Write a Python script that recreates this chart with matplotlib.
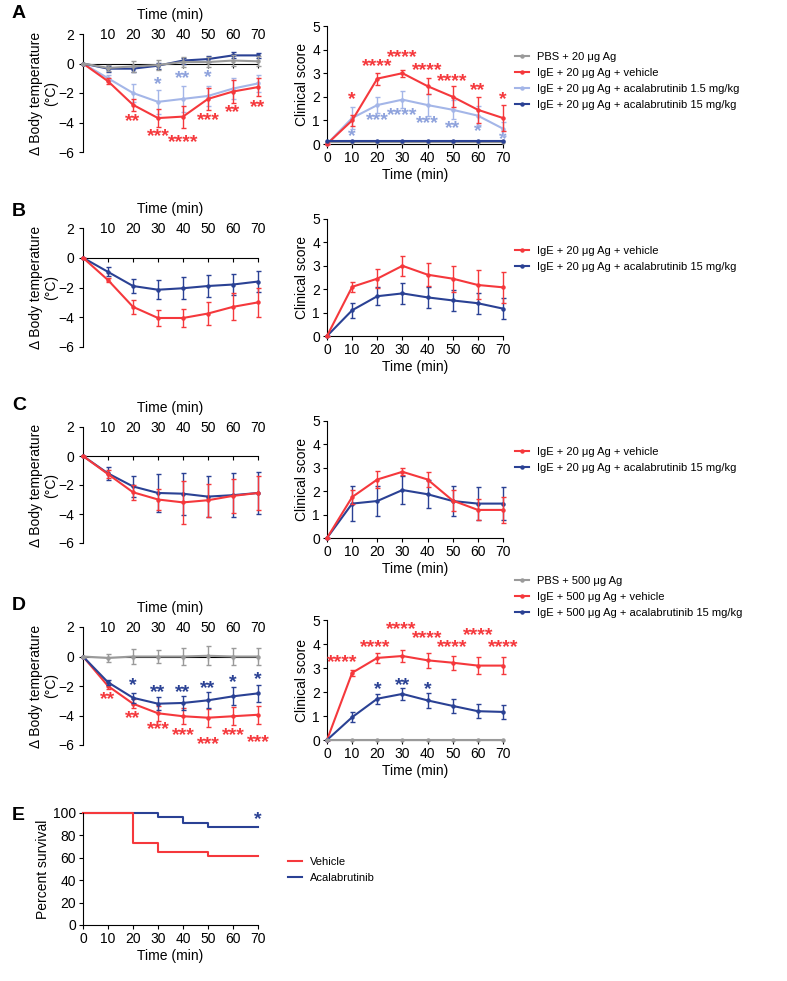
import matplotlib
matplotlib.use('Agg')
import matplotlib.pyplot as plt
from matplotlib.lines import Line2D

plt.rcParams['font.family'] = ['Liberation Sans', 'DejaVu Sans']

RED = '#f5383c'
NAVY = '#2a4194'
LIGHT = '#a4b6e8'
LIGHT_STAR = '#8ea2dc'
GRAY = '#9a9a9a'

time = [0, 10, 20, 30, 40, 50, 60, 70]
ticks_top = [10, 20, 30, 40, 50, 60, 70]

# ---- panel A ----
a_temp_pbs = [0, -0.3, -0.2, -0.1, 0.1, 0.1, 0.2, 0.15]
a_temp_pbs_err = [0, 0.2, 0.4, 0.35, 0.35, 0.35, 0.35, 0.35]
a_temp_veh = [0, -1.2, -2.8, -3.7, -3.6, -2.4, -1.9, -1.6]
a_temp_veh_err = [0, 0.2, 0.4, 0.6, 0.75, 0.75, 0.75, 0.6]
a_temp_low = [0, -1.0, -2.0, -2.6, -2.4, -2.2, -1.7, -1.35]
a_temp_low_err = [0, 0.2, 0.6, 0.8, 0.9, 0.7, 0.7, 0.6]
a_temp_high = [0, -0.35, -0.35, -0.15, 0.2, 0.3, 0.55, 0.55]
a_temp_high_err = [0, 0.2, 0.2, 0.2, 0.2, 0.2, 0.2, 0.15]

a_score_pbs = [0.1, 0.1, 0.1, 0.1, 0.1, 0.1, 0.1, 0.1]
a_score_veh = [0, 1.0, 2.77, 3.0, 2.45, 2.0, 1.45, 1.1]
a_score_veh_err = [0, 0.25, 0.25, 0.15, 0.35, 0.45, 0.55, 0.55]
a_score_low = [0, 1.1, 1.65, 1.88, 1.65, 1.45, 1.2, 0.65]
a_score_low_err = [0, 0.45, 0.35, 0.35, 0.45, 0.4, 0.4, 0.3]
a_score_high = [0.12, 0.12, 0.12, 0.12, 0.12, 0.12, 0.12, 0.12]

a_temp_stars_low = [(30, -1.3, '*'), (40, -0.9, '**'), (50, -0.8, '*')]
a_temp_stars_veh = [(20, -3.8, '**'), (30, -4.8, '***'), (40, -5.2, '****'),
                    (50, -3.7, '***'), (60, -3.2, '**'), (70, -2.85, '**')]
a_score_stars_veh = [(10, 1.95, '*'), (20, 3.35, '****'), (30, 3.77, '****'),
                     (40, 3.2, '****'), (50, 2.75, '****'), (60, 2.37, '**'),
                     (70, 1.95, '*')]
a_score_stars_low = [(10, 0.42, '*'), (20, 1.1, '***'), (30, 1.3, '****'),
                     (40, 0.97, '***'), (50, 0.76, '**'), (60, 0.6, '*'),
                     (70, 0.27, '*')]

# ---- panel B ----
b_temp_veh = [0, -1.5, -3.3, -4.05, -4.05, -3.75, -3.3, -3.0]
b_temp_veh_err = [0, 0.15, 0.45, 0.55, 0.6, 0.8, 0.9, 0.95]
b_temp_high = [0, -0.95, -1.9, -2.15, -2.05, -1.9, -1.8, -1.6]
b_temp_high_err = [0, 0.3, 0.5, 0.65, 0.75, 0.75, 0.7, 0.7]
b_score_veh = [0, 2.1, 2.45, 3.0, 2.62, 2.45, 2.18, 2.08]
b_score_veh_err = [0, 0.2, 0.4, 0.42, 0.5, 0.55, 0.62, 0.65]
b_score_high = [0, 1.1, 1.7, 1.82, 1.65, 1.52, 1.4, 1.17]
b_score_high_err = [0, 0.33, 0.38, 0.44, 0.45, 0.45, 0.45, 0.45]

# ---- panel C ----
c_temp_veh = [0, -1.25, -2.5, -3.0, -3.2, -3.05, -2.75, -2.55]
c_temp_veh_err = [0, 0.3, 0.5, 0.7, 1.5, 1.15, 1.15, 1.2]
c_temp_high = [0, -1.2, -2.1, -2.55, -2.6, -2.8, -2.7, -2.55]
c_temp_high_err = [0, 0.45, 0.75, 1.3, 1.45, 1.4, 1.5, 1.45]
c_score_veh = [0, 1.75, 2.5, 2.83, 2.5, 1.6, 1.2, 1.2]
c_score_veh_err = [0, 0.3, 0.35, 0.15, 0.3, 0.45, 0.45, 0.55]
c_score_high = [0, 1.47, 1.58, 2.05, 1.87, 1.58, 1.47, 1.47]
c_score_high_err = [0, 0.75, 0.65, 0.6, 0.6, 0.65, 0.7, 0.7]

# ---- panel D ----
d_temp_pbs = [0, -0.1, 0, 0, 0, 0.05, 0, 0]
d_temp_pbs_err = [0, 0.3, 0.5, 0.45, 0.6, 0.65, 0.6, 0.6]
d_temp_veh = [0, -2.0, -3.2, -3.85, -4.05, -4.15, -4.05, -3.95]
d_temp_veh_err = [0, 0.2, 0.3, 0.5, 0.55, 0.6, 0.6, 0.6]
d_temp_high = [0, -1.75, -2.8, -3.2, -3.15, -2.97, -2.7, -2.5]
d_temp_high_err = [0, 0.15, 0.35, 0.45, 0.5, 0.55, 0.6, 0.6]
d_score_pbs = [0, 0, 0, 0, 0, 0, 0, 0]
d_score_veh = [0, 2.8, 3.42, 3.5, 3.32, 3.22, 3.1, 3.1]
d_score_veh_err = [0, 0.12, 0.2, 0.25, 0.3, 0.3, 0.35, 0.35]
d_score_high = [0, 0.95, 1.72, 1.92, 1.65, 1.42, 1.2, 1.17]
d_score_high_err = [0, 0.2, 0.2, 0.25, 0.3, 0.3, 0.3, 0.3]

d_temp_stars_high = [(20, -1.85, '*'), (30, -2.3, '**'), (40, -2.3, '**'),
                     (50, -2.0, '**'), (60, -1.65, '*'), (70, -1.4, '*')]
d_temp_stars_veh = [(10, -2.8, '**'), (20, -4.05, '**'), (30, -4.8, '***'),
                    (40, -5.2, '***'), (50, -5.85, '***'), (60, -5.2, '***'),
                    (70, -5.7, '***')]
d_score_stars_veh = [(6, 3.3, '****'), (19, 3.95, '****'), (29.5, 4.7, '****'),
                     (40, 4.3, '****'), (50, 3.95, '****'), (60, 4.45, '****'),
                     (70, 3.95, '****')]
d_score_stars_high = [(20, 2.2, '*'), (30, 2.35, '**'), (40, 2.2, '*')]

# ---- panel E ----
e_time = [0, 20, 30, 40, 50, 70]
e_vehicle = [100, 73, 65, 65, 61.5, 61.5]
e_acala = [100, 100, 96, 91.5, 87.5, 87.5]

W, H = 787, 981
fig = plt.figure(figsize=(W / 100, H / 100), dpi=100)


def rect(x0, x1, ytop, ybot):
    return [x0 / W, 1 - ybot / H, (x1 - x0) / W, (ybot - ytop) / H]


def temp_axes(r):
    ax = fig.add_axes(r)
    ax.set_xlim(0, 70)
    ax.set_ylim(-6, 2)
    ax.spines['top'].set_visible(False)
    ax.spines['right'].set_visible(False)
    ax.spines['bottom'].set_position(('data', 0))
    ax.set_xticks(ticks_top)
    ax.set_yticks([-6, -4, -2, 0, 2])
    ax.tick_params(axis='x', bottom=True, top=False, labelbottom=False,
                   labeltop=True, length=3, pad=-9, labelsize=10)
    ax.tick_params(axis='y', length=3, labelsize=10)
    ax.xaxis.set_label_position('top')
    ax.set_xlabel('Time (min)', fontsize=10, labelpad=7)
    ax.set_ylabel('Δ Body temperature\n(°C)', fontsize=10, linespacing=1.1,
                  labelpad=0)
    return ax


def score_axes(r):
    ax = fig.add_axes(r)
    ax.set_xlim(0, 70)
    ax.set_ylim(0, 5)
    ax.spines['top'].set_visible(False)
    ax.spines['right'].set_visible(False)
    ax.set_xticks(time)
    ax.set_yticks([0, 1, 2, 3, 4, 5])
    ax.tick_params(length=3, labelsize=10, pad=2)
    ax.set_xlabel('Time (min)', fontsize=10, labelpad=2)
    ax.set_ylabel('Clinical score', fontsize=10, labelpad=2)
    return ax


def series(ax, y, err, color, z=3):
    ax.errorbar(time, y, yerr=err, color=color, lw=1.5, marker='o', ms=2.2,
                capsize=1.8, elinewidth=1, capthick=1, clip_on=False, zorder=z)


def stars(ax, items, color):
    for x, y, s in items:
        ax.annotate(s, (x, y), xytext=(0, -1.5), textcoords='offset points',
                    ha='center', va='center', color=color, fontsize=14,
                    fontweight='bold', annotation_clip=False)


def legend(entries, x, y):
    handles = [Line2D([], [], color=c, lw=1.5, marker='o', ms=2.2)
               for c, _ in entries]
    fig.legend(handles, [t for _, t in entries], loc='upper left',
               bbox_to_anchor=(x / W, 1 - y / H), frameon=False, fontsize=8,
               handlelength=1.3, handletextpad=0.7, labelspacing=0.55,
               borderpad=0, borderaxespad=0)


def letter(s, y):
    fig.text(12 / W, 1 - y / H, s, fontsize=14, fontweight='bold', va='center')


# A
ax = temp_axes(rect(83, 258, 34, 152))
series(ax, a_temp_low, a_temp_low_err, LIGHT, 3)
series(ax, a_temp_veh, a_temp_veh_err, RED, 4)
series(ax, a_temp_high, a_temp_high_err, NAVY, 5)
series(ax, a_temp_pbs, a_temp_pbs_err, GRAY, 6)
stars(ax, a_temp_stars_low, LIGHT_STAR)
stars(ax, a_temp_stars_veh, RED)

ax = score_axes(rect(327, 503, 26, 144))
series(ax, a_score_pbs, None, GRAY, 3)
series(ax, a_score_low, a_score_low_err, LIGHT, 4)
series(ax, a_score_veh, a_score_veh_err, RED, 5)
series(ax, a_score_high, None, NAVY, 6)
stars(ax, a_score_stars_veh, RED)
stars(ax, a_score_stars_low, LIGHT_STAR)
legend([(GRAY, 'PBS + 20 μg Ag'), (RED, 'IgE + 20 μg Ag + vehicle'),
        (LIGHT, 'IgE + 20 μg Ag + acalabrutinib 1.5 mg/kg'),
        (NAVY, 'IgE + 20 μg Ag + acalabrutinib 15 mg/kg')], 515, 52)
letter('A', 13)

# B
ax = temp_axes(rect(83, 258, 228, 347))
series(ax, b_temp_high, b_temp_high_err, NAVY, 3)
series(ax, b_temp_veh, b_temp_veh_err, RED, 4)
ax = score_axes(rect(327, 503, 219, 336))
series(ax, b_score_high, b_score_high_err, NAVY, 3)
series(ax, b_score_veh, b_score_veh_err, RED, 4)
legend([(RED, 'IgE + 20 μg Ag + vehicle'),
        (NAVY, 'IgE + 20 μg Ag + acalabrutinib 15 mg/kg')], 515, 246)
letter('B', 211)

# C
ax = temp_axes(rect(83, 258, 427, 543))
series(ax, c_temp_high, c_temp_high_err, NAVY, 3)
series(ax, c_temp_veh, c_temp_veh_err, RED, 4)
ax = score_axes(rect(327, 503, 421, 538))
series(ax, c_score_high, c_score_high_err, NAVY, 3)
series(ax, c_score_veh, c_score_veh_err, RED, 4)
legend([(RED, 'IgE + 20 μg Ag + vehicle'),
        (NAVY, 'IgE + 20 μg Ag + acalabrutinib 15 mg/kg')], 515, 447)
letter('C', 406)

# D
ax = temp_axes(rect(83, 258, 627, 745))
series(ax, d_temp_veh, d_temp_veh_err, RED, 3)
series(ax, d_temp_high, d_temp_high_err, NAVY, 4)
series(ax, d_temp_pbs, d_temp_pbs_err, GRAY, 5)
stars(ax, d_temp_stars_high, NAVY)
stars(ax, d_temp_stars_veh, RED)
ax = score_axes(rect(327, 503, 620, 740))
series(ax, d_score_veh, d_score_veh_err, RED, 3)
series(ax, d_score_high, d_score_high_err, NAVY, 4)
series(ax, d_score_pbs, None, GRAY, 5)
stars(ax, d_score_stars_veh, RED)
stars(ax, d_score_stars_high, NAVY)
legend([(GRAY, 'PBS + 500 μg Ag'), (RED, 'IgE + 500 μg Ag + vehicle'),
        (NAVY, 'IgE + 500 μg Ag + acalabrutinib 15 mg/kg')], 515, 576)
letter('D', 606)

# E
ax = fig.add_axes(rect(83, 258, 813, 925))
ax.step(e_time, e_acala, where='post', color=NAVY, lw=1.5, clip_on=False)
ax.step(e_time, e_vehicle, where='post', color=RED, lw=1.5, clip_on=False)
ax.set_xlim(0, 70)
ax.set_ylim(0, 100)
ax.spines['top'].set_visible(False)
ax.spines['right'].set_visible(False)
ax.set_xticks(time)
ax.set_yticks([0, 20, 40, 60, 80, 100])
ax.tick_params(length=3, labelsize=10, pad=2)
ax.set_xlabel('Time (min)', fontsize=10, labelpad=2)
ax.set_ylabel('Percent survival', fontsize=10, labelpad=2)
stars(ax, [(70, 96, '*')], NAVY)
handles = [Line2D([], [], color=RED, lw=1.5), Line2D([], [], color=NAVY, lw=1.5)]
fig.legend(handles, ['Vehicle', 'Acalabrutinib'], loc='upper left',
           bbox_to_anchor=(288 / W, 1 - 857 / H), frameon=False, fontsize=8,
           handlelength=1.3, handletextpad=0.7, labelspacing=0.55,
           borderpad=0, borderaxespad=0)
letter('E', 815)

fig.savefig('out.png', dpi=100)
